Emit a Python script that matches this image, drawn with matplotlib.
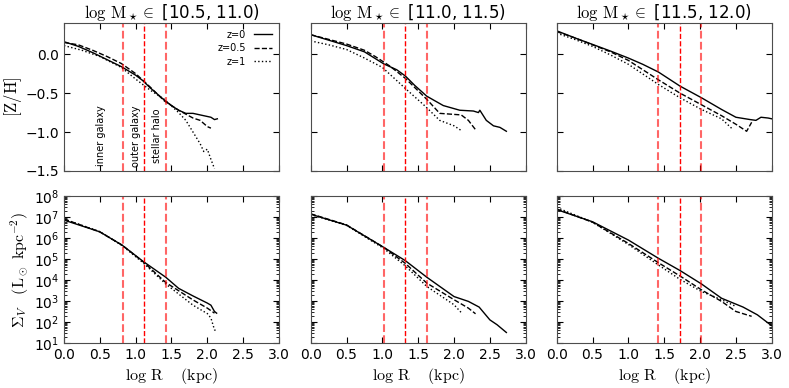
import matplotlib
matplotlib.use("Agg")
import matplotlib.pyplot as plt
import matplotlib.ticker as mticker
import numpy as np

plt.rcParams['mathtext.fontset'] = 'cm'
plt.rcParams['font.family'] = ['DejaVu Sans']

titles = [r'$\log\,\mathrm{M}_\star\in$ [10.5, 11.0)',
          r'$\log\,\mathrm{M}_\star\in$ [11.0, 11.5)',
          r'$\log\,\mathrm{M}_\star\in$ [11.5, 12.0)']

# region boundaries (log R) for each mass bin
bounds = [[0.82, 1.12, 1.42], [1.02, 1.32, 1.62], [1.42, 1.72, 2.02]]

# metallicity profiles [Z/H]
zh_x0 = [[0, 0.2, 0.4, 0.6, 0.8, 1.0, 1.1, 1.2, 1.3, 1.4, 1.5, 1.6, 1.7, 1.8, 1.9, 2.0, 2.05, 2.1, 2.14],
         [0, 0.25, 0.5, 0.75, 1.02, 1.2, 1.32, 1.45, 1.62, 1.85, 2.08, 2.27, 2.34, 2.36, 2.45, 2.55, 2.64, 2.73],
         [0, 0.25, 0.5, 0.75, 1.0, 1.2, 1.42, 1.72, 2.02, 2.3, 2.5, 2.7, 2.78, 2.85, 2.95, 3.0]]
zh_y0 = [[0.16, 0.10, 0.02, -0.07, -0.16, -0.27, -0.34, -0.43, -0.51, -0.59, -0.66, -0.72, -0.76, -0.76, -0.78, -0.80, -0.81, -0.84, -0.83],
         [0.25, 0.18, 0.11, 0.03, -0.125, -0.2, -0.28, -0.4, -0.54, -0.66, -0.72, -0.73, -0.75, -0.72, -0.85, -0.92, -0.94, -0.99],
         [0.30, 0.21, 0.125, 0.04, -0.05, -0.13, -0.23, -0.41, -0.56, -0.71, -0.81, -0.84, -0.85, -0.81, -0.82, -0.83]]

zh_x05 = [[0, 0.2, 0.4, 0.6, 0.8, 1.0, 1.2, 1.4, 1.6, 1.8, 1.9, 2.0, 2.05],
          [0, 0.25, 0.5, 0.75, 0.9, 1.1, 1.32, 1.62, 1.8, 2.1, 2.2, 2.3],
          [0, 0.25, 0.5, 0.75, 1.0, 1.42, 1.72, 2.02, 2.3, 2.5, 2.65, 2.72]]
zh_y05 = [[0.15, 0.12, 0.05, -0.03, -0.12, -0.25, -0.42, -0.60, -0.72, -0.82, -0.85, -0.93, -0.95],
          [0.25, 0.19, 0.13, 0.05, -0.03, -0.15, -0.31, -0.58, -0.76, -0.78, -0.85, -0.97],
          [0.29, 0.21, 0.12, 0.03, -0.08, -0.33, -0.50, -0.65, -0.79, -0.90, -0.99, -0.875]]

zh_x1 = [[0, 0.25, 0.5, 0.8, 1.0, 1.2, 1.4, 1.6, 1.7, 1.8, 1.9, 1.95, 2.0, 2.05, 2.1],
         [0, 0.25, 0.5, 0.75, 1.0, 1.32, 1.6, 1.8, 2.0, 2.1],
         [0, 0.25, 0.5, 0.75, 1.0, 1.42, 1.72, 2.02, 2.3, 2.45]]
zh_y1 = [[0.11, 0.05, -0.03, -0.17, -0.32, -0.46, -0.58, -0.75, -0.85, -1.0, -1.15, -1.25, -1.22, -1.35, -1.47],
         [0.17, 0.12, 0.06, -0.05, -0.17, -0.44, -0.67, -0.85, -0.92, -0.98],
         [0.27, 0.19, 0.10, -0.01, -0.13, -0.39, -0.56, -0.71, -0.83, -0.96]]

# surface brightness profiles, log10 Sigma_V
sb_x0 = [[0, 0.36, 0.5, 0.81, 1.11, 1.42, 1.6, 1.8, 2.0, 2.05, 2.1, 2.13],
         [0, 0.5, 1.02, 1.32, 1.62, 2.0, 2.2, 2.35, 2.5, 2.6, 2.73],
         [0, 0.5, 1.0, 1.42, 1.72, 2.02, 2.3, 2.6, 2.8, 3.0]]
sb_y0 = [[6.85, 6.45, 6.29, 5.66, 4.87, 4.13, 3.6, 3.24, 2.9, 2.8, 2.5, 2.42],
         [7.13, 6.61, 5.55, 4.92, 4.13, 3.21, 2.98, 2.71, 2.1, 1.87, 1.5],
         [7.35, 6.77, 5.9, 5.03, 4.45, 3.81, 3.13, 2.71, 2.34, 1.82]]

sb_x05 = [[0, 0.5, 0.81, 1.11, 1.42, 1.8, 2.0, 2.1],
          [0, 0.5, 1.02, 1.32, 1.62, 2.0, 2.2, 2.3],
          [0, 0.5, 1.0, 1.42, 1.72, 2.02, 2.3, 2.5, 2.72]]
sb_y05 = [[6.9, 6.29, 5.66, 4.85, 3.88, 3.05, 2.66, 2.42],
          [7.15, 6.62, 5.55, 4.79, 3.85, 3.06, 2.66, 2.39],
          [7.38, 6.75, 5.74, 4.82, 4.19, 3.53, 2.98, 2.5, 2.27]]

sb_x1 = [[0, 0.5, 0.81, 1.11, 1.42, 1.8, 2.0, 2.05, 2.1, 2.13],
         [0, 0.5, 1.02, 1.32, 1.62, 2.0, 2.1],
         [0, 0.5, 1.0, 1.42, 1.72, 2.02, 2.3, 2.5]]
sb_y1 = [[6.9, 6.3, 5.64, 4.8, 3.81, 2.8, 2.4, 2.19, 1.63, 1.55],
         [7.12, 6.6, 5.5, 4.67, 3.69, 2.82, 2.45],
         [7.45, 6.75, 5.69, 4.71, 4.03, 3.45, 3.06, 2.74]]

region_labels = ['inner galaxy', 'outer galaxy', 'stellar halo']
region_x = [0.52, 1.0, 1.3]

fig = plt.figure(figsize=(7.89, 3.88), dpi=100)
lefts = [0.0811, 0.3938, 0.7056]
w = 0.2725


def add_bounds(ax, bb):
    for j, b in enumerate(bb):
        if j == 1:
            ax.axvline(b, color='red', ls='--', lw=1.0)
        else:
            ax.axvline(b, color='red', ls='--', lw=1.5, alpha=0.6)


for i in range(3):
    ax = fig.add_axes([lefts[i], 0.5593, w, 0.3814])
    ax.plot(zh_x0[i], zh_y0[i], 'k-', lw=1, label='z=0')
    ax.plot(zh_x05[i], zh_y05[i], 'k--', lw=1, label='z=0.5')
    ax.plot(zh_x1[i], zh_y1[i], 'k:', lw=1, label='z=1')
    add_bounds(ax, bounds[i])
    ax.set_xlim(0, 3)
    ax.set_ylim(-1.5, 0.4)
    ax.set_yticks([-1.5, -1.0, -0.5, 0.0])
    ax.set_xticks(np.arange(0, 3.01, 0.5))
    ax.set_xticklabels([])
    ax.set_title(titles[i], fontsize=12, pad=3)
    ax.tick_params(direction='in', top=True, right=True, labelsize=10, length=4)
    if i == 0:
        ax.set_ylabel(r'$[\mathrm{Z/H}]$', fontsize=12, labelpad=1)
        ax.legend(loc='upper right', frameon=False, fontsize=7, markerfirst=False,
                  handlelength=1.9, handletextpad=0.8, borderaxespad=0.3,
                  labelspacing=0.35)
        for lab, xx in zip(region_labels, region_x):
            ax.text(xx, -1.05, lab, rotation=90, fontsize=7, ha='center', va='center')
    else:
        ax.set_yticklabels([])
    for s in ax.spines.values():
        s.set_color('0.3')

    ax2 = fig.add_axes([lefts[i], 0.116, w, 0.379])
    ax2.plot(sb_x0[i], 10 ** np.array(sb_y0[i]), 'k-', lw=1)
    ax2.plot(sb_x05[i], 10 ** np.array(sb_y05[i]), 'k--', lw=1)
    ax2.plot(sb_x1[i], 10 ** np.array(sb_y1[i]), 'k:', lw=1)
    add_bounds(ax2, bounds[i])
    ax2.set_yscale('log')
    ax2.set_xlim(0, 3)
    ax2.set_ylim(1e1, 1e8)
    ax2.yaxis.set_major_locator(mticker.LogLocator(base=10, numticks=12))
    ax2.yaxis.set_minor_locator(mticker.LogLocator(base=10, subs=np.arange(2, 10), numticks=12))
    ax2.yaxis.set_minor_formatter(mticker.NullFormatter())
    ax2.set_xticks(np.arange(0, 3.01, 0.5))
    ax2.tick_params(which='major', direction='in', top=True, right=True, labelsize=10, length=4)
    ax2.tick_params(which='minor', direction='in', top=True, right=True, length=2)
    ax2.set_xlabel(r'$\log\,\mathrm{R}\quad\ (\mathrm{kpc})$', fontsize=11.5, labelpad=3)
    if i == 0:
        ax2.set_ylabel(r'$\Sigma_V\quad(\mathrm{L_\odot\ kpc^{-2}})$', fontsize=11.5, labelpad=2)
    else:
        ax2.set_yticklabels([])
    for s in ax2.spines.values():
        s.set_color('0.3')

fig.savefig('out.png', dpi=100)
